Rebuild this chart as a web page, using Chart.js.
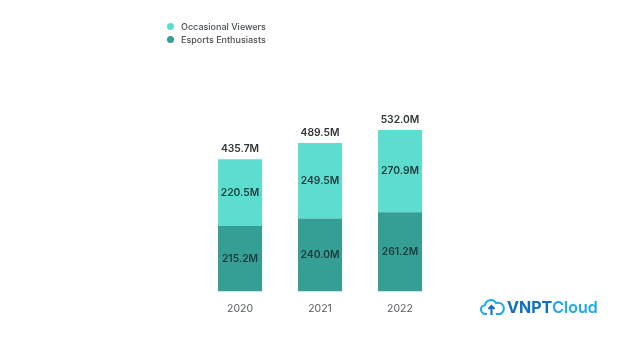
<!DOCTYPE html>
<html lang="en">
<head>
  <meta charset="UTF-8">
  <title>Esports audience</title>
  <script src="https://cdn.jsdelivr.net/npm/chart.js"></script>
  <style>
    html, body { margin: 0; padding: 0; background: #fff; }
    #wrap { position: relative; width: 632px; height: 350px; overflow: hidden; font-family: Inter, sans-serif; }
    canvas { position: absolute; left: 0; top: 0; }
    .legend-row { position: absolute; left: 167px; font-size: 9px; font-weight: 500; color: #4a4f52; line-height: 12px; white-space: nowrap; }
    .legend-row i { display: inline-block; width: 7px; height: 7px; border-radius: 50%; margin-right: 7px; vertical-align: 0; }
    #logo { position: absolute; left: 480px; top: 297px; width: 120px; height: 20px; }
    #logo span { position: absolute; left: 27px; top: 0; font-size: 16px; line-height: 20px; font-weight: 700; color: #0f6fc0; white-space: nowrap; }
    #logo b { font-weight: 600; color: #1aa9ee; }
  </style>
</head>
<body>
  <div id="wrap">
    <canvas id="chart" width="632" height="350"></canvas>
    <div class="legend-row" style="top:21px"><i style="background:#5CDDD0"></i>Occasional Viewers</div>
    <div class="legend-row" style="top:34px"><i style="background:#359F95"></i>Esports Enthusiasts</div>
    <div id="logo">
      <svg width="26" height="20" viewBox="0 0 26 20" fill="none" stroke="#1aa9ee" stroke-width="2">
        <path d="M7 17 H6 a4.5 4.5 0 0 1 -1 -9 a6 6 0 0 1 11 -2 a5 5 0 0 1 4 11 H16"/>
        <path d="M11.5 18 V9 M8.5 12 L11.5 9 L14.5 12" stroke="#0f6fc0"/>
      </svg>
      <span>VNPT<b>Cloud</b></span>
    </div>
  </div>

  <script>
    const years = ['2020', '2021', '2022'];
    const enthusiasts = [215.2, 240.0, 261.2];
    const occasional = [220.5, 249.5, 270.9];
    const totals = [435.7, 489.5, 532.0];

    // labels inside the segments and above the stacks
    const valueLabels = {
      id: 'valueLabels',
      afterDatasetsDraw(chart) {
        const c = chart.ctx;
        const y = chart.scales.y;
        c.save();
        c.font = '600 10.3px Inter, sans-serif';
        c.textAlign = 'center';
        c.textBaseline = 'middle';
        chart.data.datasets.forEach((ds, i) => {
          chart.getDatasetMeta(i).data.forEach((bar, j) => {
            c.fillStyle = '#1f3a3a';
            c.fillText(ds.data[j].toFixed(1) + 'M', bar.x, (bar.y + bar.base) / 2);
          });
        });
        chart.getDatasetMeta(1).data.forEach((bar, j) => {
          c.fillStyle = '#2d3436';
          c.fillText(totals[j].toFixed(1) + 'M', bar.x, y.getPixelForValue(totals[j]) - 10);
        });
        c.restore();
      }
    };

    new Chart(document.getElementById('chart').getContext('2d'), {
      type: 'bar',
      data: {
        labels: years,
        datasets: [
          { label: 'Esports Enthusiasts', data: enthusiasts, backgroundColor: '#359F95' },
          { label: 'Occasional Viewers', data: occasional, backgroundColor: '#5CDDD0' }
        ]
      },
      options: {
        responsive: false,
        animation: false,
        layout: { padding: { left: 200, right: 192, top: 109.4, bottom: 24 } },
        plugins: { legend: { display: false }, tooltip: { enabled: false } },
        scales: {
          x: {
            stacked: true,
            grid: { display: false, drawTicks: false },
            border: { display: false },
            ticks: { color: '#55595c', font: { family: 'Inter, sans-serif', size: 10.5 }, padding: 11 }
          },
          y: { stacked: true, display: false, min: 0, max: 600 }
        },
        datasets: { bar: { categoryPercentage: 1, barPercentage: 0.55 } }
      },
      plugins: [valueLabels]
    });
  </script>
</body>
</html>
